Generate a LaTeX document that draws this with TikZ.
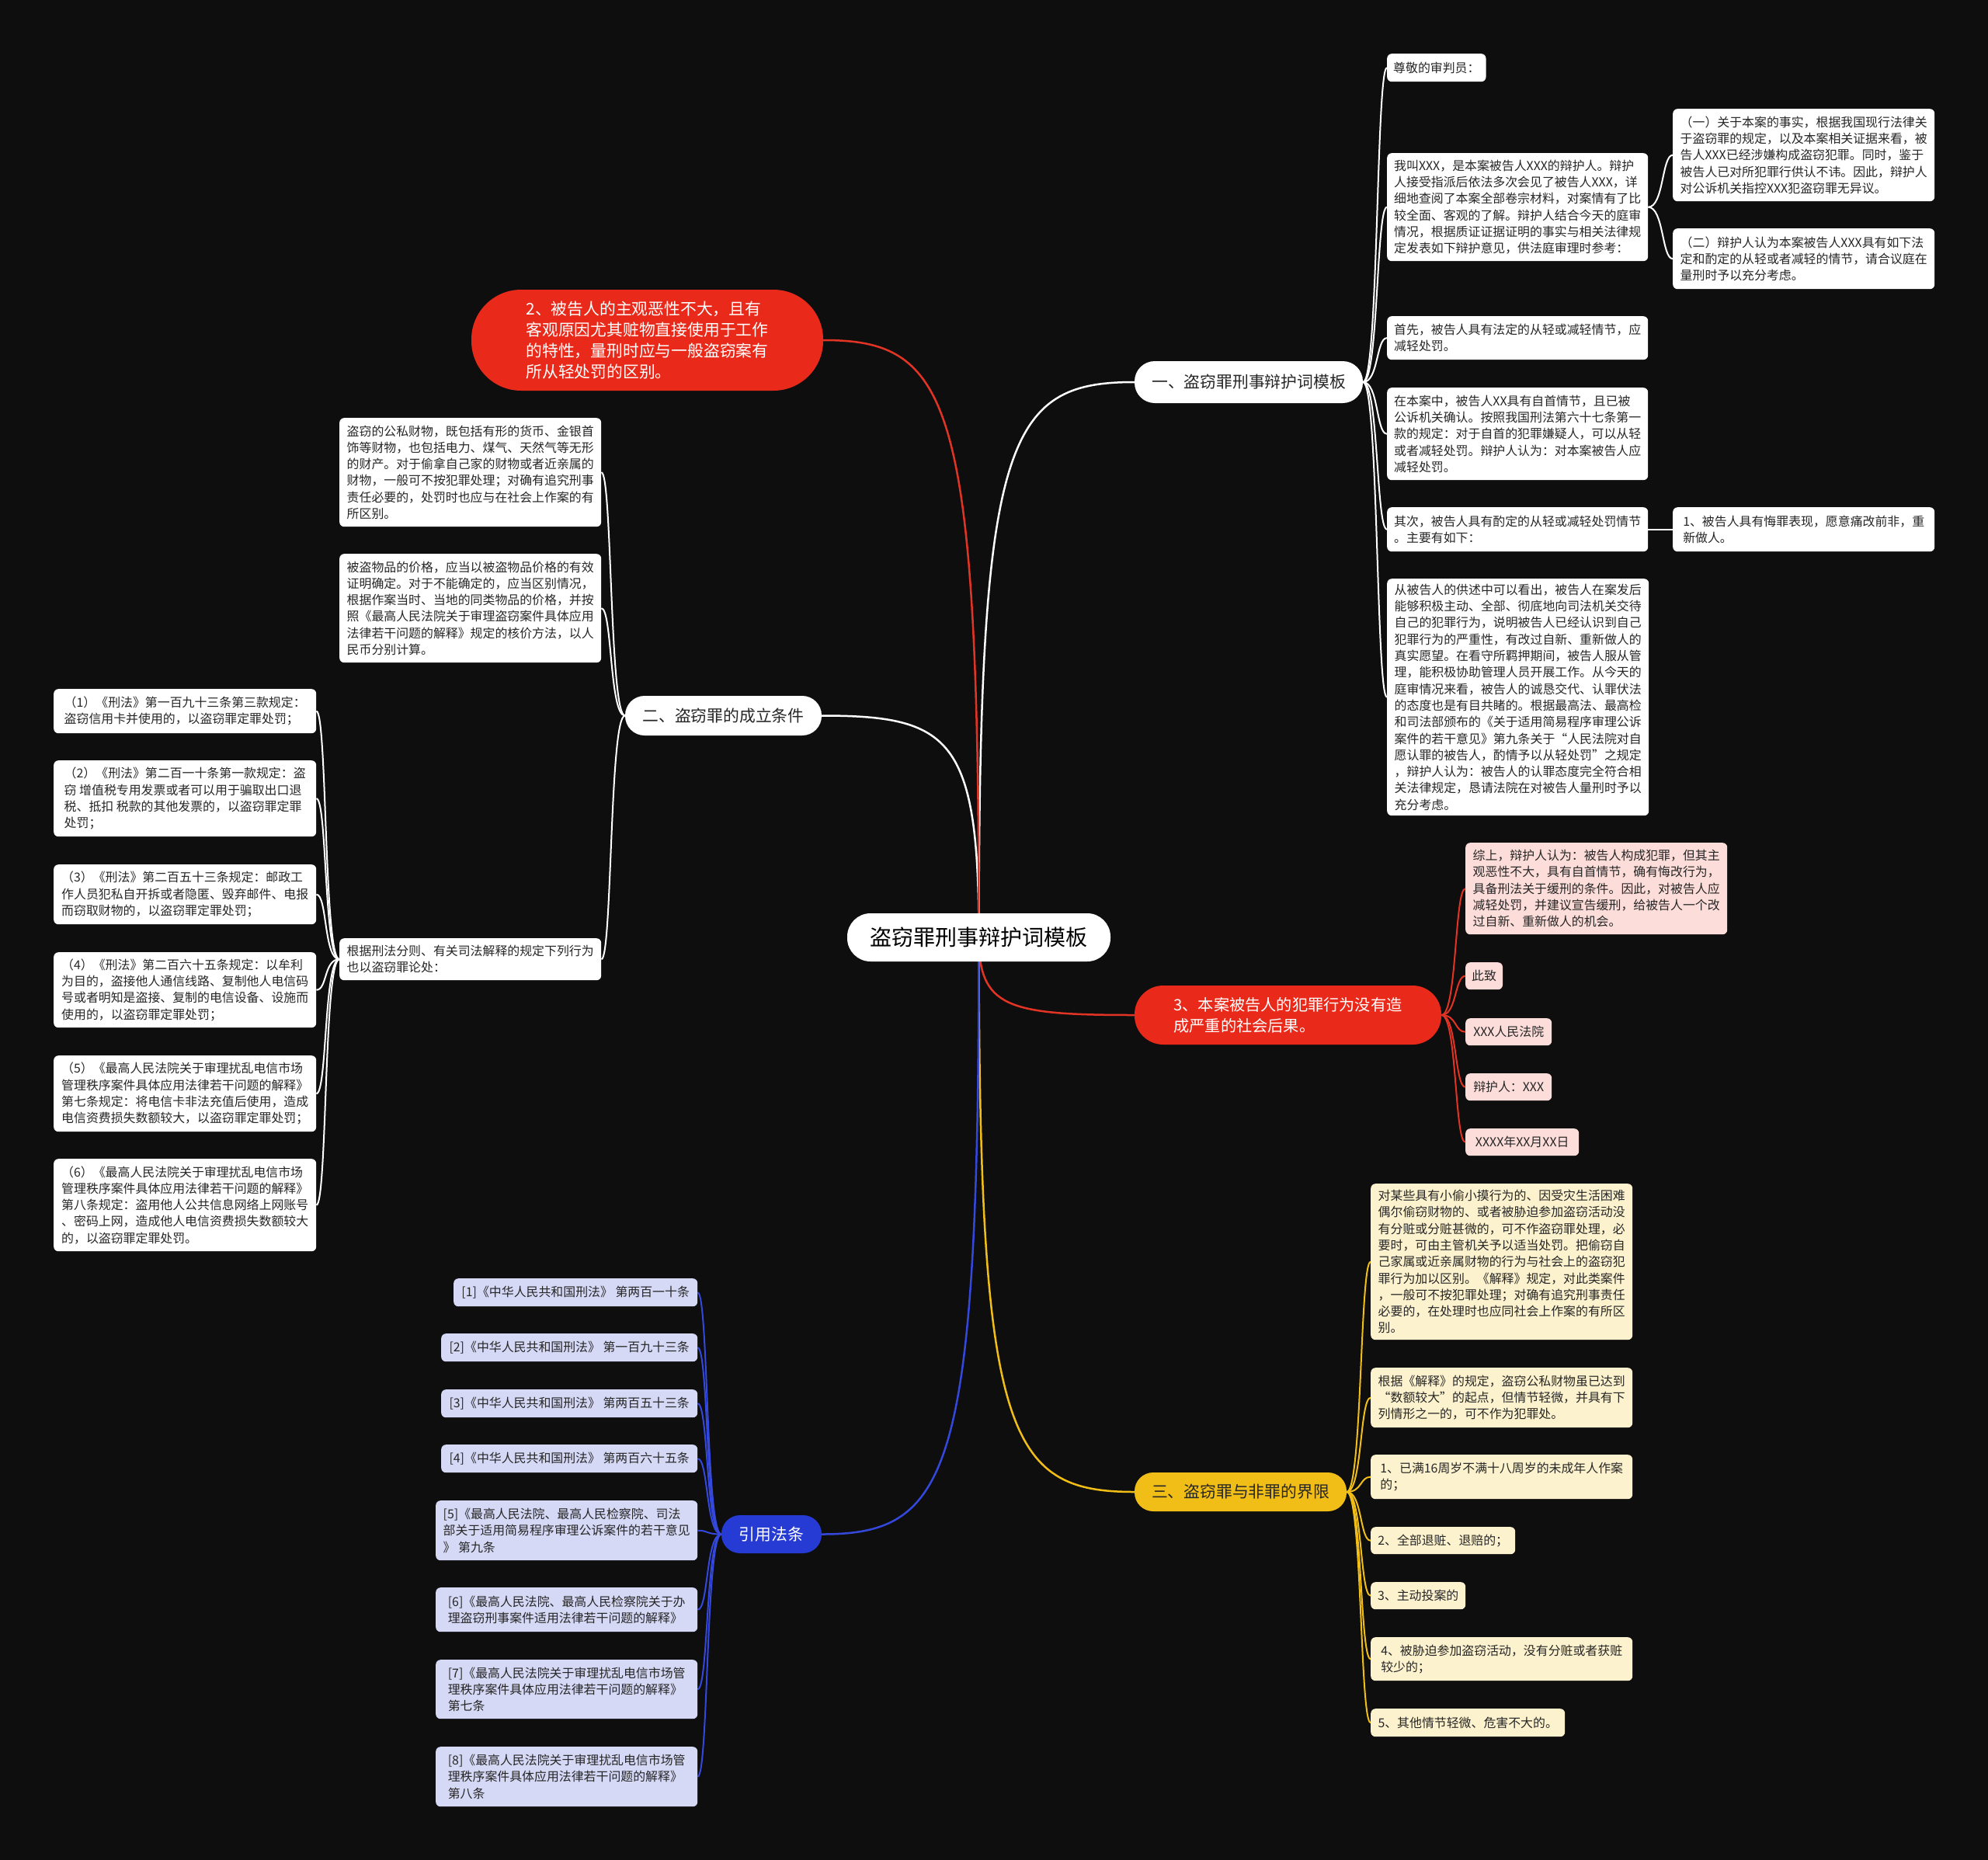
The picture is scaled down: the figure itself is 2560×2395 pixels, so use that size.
\documentclass[tikz,border=0pt]{standalone}
\usepackage{fontspec}
\setmainfont{Noto Sans CJK SC}
\usetikzlibrary{calc}
\pgfdeclarelayer{bgfill}
\pgfdeclarelayer{bg}
\pgfsetlayers{bgfill,bg,main}
\definecolor{bgc}{RGB}{14,14,14}
\definecolor{redc}{RGB}{233,42,26}
\definecolor{redl}{RGB}{226,52,36}
\definecolor{pinkc}{RGB}{252,221,217}
\definecolor{yelc}{RGB}{241,190,24}
\definecolor{creamc}{RGB}{253,242,206}
\definecolor{bluec}{RGB}{38,58,212}
\definecolor{bluel}{RGB}{52,72,220}
\definecolor{lavc}{RGB}{214,217,246}
\definecolor{txt}{RGB}{38,38,38}
\tikzset{
  box/.style={anchor=north west, rounded corners=6pt, align=left, inner xsep=8pt, inner ysep=2pt, text=txt, font={\fontsize{15.9}{21.3}\selectfont}},
  wbox/.style={box, fill=white},
  pbox/.style={box, fill=pinkc},
  cbox/.style={box, fill=creamc},
  lbox/.style={box, fill=lavc},
  mainn/.style={align=left, inner sep=4pt, font={\fontsize{20.8}{27}\selectfont}},
  wl/.style={draw=white, line width=2pt},
  rl/.style={draw=redl, line width=2pt},
  yl/.style={draw=yelc, line width=2pt},
  bll/.style={draw=bluel, line width=2pt},
}
\begin{document}
\begin{tikzpicture}[x=1pt,y=-1pt]
\begin{pgfonlayer}{bgfill}
\fill[bgc] (0,0) rectangle (2560,2395);
\end{pgfonlayer}
\useasboundingbox (0,0) rectangle (2560,2395);

% root
\node[fill=white, rounded corners=30pt, minimum width=339pt, minimum height=62pt, inner sep=2pt, text=black, font={\fontsize{28}{32}\selectfont}] (root) at (1260.5,1207) {盗窃罪刑事辩护词模板};

% main branches
\node[mainn, fill=white, text=txt, rounded corners=26pt, minimum width=294pt, minimum height=54pt] (b1) at (1608,492) {一、盗窃罪刑事辩护词模板};
\node[mainn, fill=white, text=txt, rounded corners=25pt, minimum width=253pt, minimum height=51pt] (b2) at (931.5,921.5) {二、盗窃罪的成立条件};
\node[mainn, fill=redc, text=white, rounded corners=37pt, minimum width=395pt, minimum height=76pt, font={\fontsize{20.2}{27}\selectfont}] (r3) at (1658.5,1307) {3、本案被告人的犯罪行为没有造\\成严重的社会后果。};
\node[mainn, fill=redc, text=white, rounded corners=64pt, minimum width=453pt, minimum height=130pt] (r2) at (833.5,438) {2、被告人的主观恶性不大，且有\\客观原因尤其赃物直接使用于工作\\的特性，量刑时应与一般盗窃案有\\所从轻处罚的区别。};
\node[mainn, fill=yelc, text=txt, rounded corners=24pt, minimum width=273pt, minimum height=50pt] (y3) at (1597.5,1921) {三、盗窃罪与非罪的界限};
\node[mainn, fill=bluec, text=white, rounded corners=24pt, minimum width=129pt, minimum height=49pt] (bl) at (993.5,1975.5) {引用法条};

% branch 1 leaves
\node[wbox, minimum width=127pt, minimum height=36pt] (a1) at (1786,69) {尊敬的审判员：};
\node[wbox, minimum width=336pt, minimum height=139pt] (a2) at (1786,197) {我叫XXX，是本案被告人XXX的辩护人。辩护\\人接受指派后依法多次会见了被告人XXX，详\\细地查阅了本案全部卷宗材料，对案情有了比\\较全面、客观的了解。辩护人结合今天的庭审\\情况，根据质证证据证明的事实与相关法律规\\定发表如下辩护意见，供法庭审理时参考：};
\node[wbox, minimum width=337pt, minimum height=119pt] (a2a) at (2154,140) {（一）关于本案的事实，根据我国现行法律关\\于盗窃罪的规定，以及本案相关证据来看，被\\告人XXX已经涉嫌构成盗窃犯罪。同时，鉴于\\被告人已对所犯罪行供认不讳。因此，辩护人\\对公诉机关指控XXX犯盗窃罪无异议。};
\node[wbox, minimum width=337pt, minimum height=78pt] (a2b) at (2154,294) {（二）辩护人认为本案被告人XXX具有如下法\\定和酌定的从轻或者减轻的情节，请合议庭在\\量刑时予以充分考虑。};
\node[wbox, minimum width=336pt, minimum height=56pt] (a3) at (1786,407) {首先，被告人具有法定的从轻或减轻情节，应\\减轻处罚。};
\node[wbox, minimum width=336pt, minimum height=119pt] (a4) at (1786,499) {在本案中，被告人XX具有自首情节，且已被\\公诉机关确认。按照我国刑法第六十七条第一\\款的规定：对于自首的犯罪嫌疑人，可以从轻\\或者减轻处罚。辩护人认为：对本案被告人应\\减轻处罚。};
\node[wbox, minimum width=336pt, minimum height=57pt] (a5) at (1786,653) {其次，被告人具有酌定的从轻或减轻处罚情节\\。主要有如下：};
\node[wbox, minimum width=337pt, minimum height=57pt] (a5a) at (2154,653) {1、被告人具有悔罪表现，愿意痛改前非，重\\新做人。};
\node[wbox, minimum width=337pt, minimum height=305pt] (a6) at (1786,745) {从被告人的供述中可以看出，被告人在案发后\\能够积极主动、全部、彻底地向司法机关交待\\自己的犯罪行为，说明被告人已经认识到自己\\犯罪行为的严重性，有改过自新、重新做人的\\真实愿望。在看守所羁押期间，被告人服从管\\理，能积极协助管理人员开展工作。从今天的\\庭审情况来看，被告人的诚恳交代、认罪伏法\\的态度也是有目共睹的。根据最高法、最高检\\和司法部颁布的《关于适用简易程序审理公诉\\案件的若干意见》第九条关于“人民法院对自\\愿认罪的被告人，酌情予以从轻处罚”之规定\\，辩护人认为：被告人的认罪态度完全符合相\\关法律规定，恳请法院在对被告人量刑时予以\\充分考虑。};

% red 3 leaves
\node[pbox, minimum width=337pt, minimum height=118pt] (p1) at (1887,1085) {综上，辩护人认为：被告人构成犯罪，但其主\\观恶性不大，具有自首情节，确有悔改行为，\\具备刑法关于缓刑的条件。因此，对被告人应\\减轻处罚，并建议宣告缓刑，给被告人一个改\\过自新、重新做人的机会。};
\node[pbox, minimum width=47pt, minimum height=35pt] (p2) at (1887,1239) {此致};
\node[pbox, minimum width=111pt, minimum height=35pt] (p3) at (1887,1311) {XXX人民法院};
\node[pbox, minimum width=111pt, minimum height=35pt] (p4) at (1887,1382) {辩护人：XXX};
\node[pbox, minimum width=146pt, minimum height=35pt] (p5) at (1887,1453) {XXXX年XX月XX日};

% yellow leaves
\node[cbox, minimum width=337pt, minimum height=201pt] (c1) at (1765,1524) {对某些具有小偷小摸行为的、因受灾生活困难\\偶尔偷窃财物的、或者被胁迫参加盗窃活动没\\有分赃或分赃甚微的，可不作盗窃罪处理，必\\要时，可由主管机关予以适当处罚。把偷窃自\\己家属或近亲属财物的行为与社会上的盗窃犯\\罪行为加以区别。《解释》规定，对此类案件\\，一般可不按犯罪处理；对确有追究刑事责任\\必要的，在处理时也应同社会上作案的有所区\\别。};
\node[cbox, minimum width=337pt, minimum height=77pt] (c2) at (1765,1761) {根据《解释》的规定，盗窃公私财物虽已达到\\“数额较大”的起点，但情节轻微，并具有下\\列情形之一的，可不作为犯罪处。};
\node[cbox, minimum width=337pt, minimum height=57pt] (c3) at (1765,1873) {1、已满16周岁不满十八周岁的未成年人作案\\的；};
\node[cbox, minimum width=186pt, minimum height=35pt] (c4) at (1765,1966) {2、全部退赃、退赔的；};
\node[cbox, minimum width=122pt, minimum height=35pt] (c5) at (1765,2037) {3、主动投案的};
\node[cbox, minimum width=337pt, minimum height=56pt] (c6) at (1765,2108) {4、被胁迫参加盗窃活动，没有分赃或者获赃\\较少的；};
\node[cbox, minimum width=250pt, minimum height=36pt] (c7) at (1765,2200) {5、其他情节轻微、危害不大的。};

% branch 2 leaves
\node[wbox, minimum width=337pt, minimum height=140pt] (d1) at (437,538) {盗窃的公私财物，既包括有形的货币、金银首\\饰等财物，也包括电力、煤气、天然气等无形\\的财产。对于偷拿自己家的财物或者近亲属的\\财物，一般可不按犯罪处理；对确有追究刑事\\责任必要的，处罚时也应与在社会上作案的有\\所区别。};
\node[wbox, minimum width=337pt, minimum height=140pt] (d2) at (437,713) {被盗物品的价格，应当以被盗物品价格的有效\\证明确定。对于不能确定的，应当区别情况，\\根据作案当时、当地的同类物品的价格，并按\\照《最高人民法院关于审理盗窃案件具体应用\\法律若干问题的解释》规定的核价方法，以人\\民币分别计算。};
\node[wbox, minimum width=337pt, minimum height=54pt] (d3) at (437,1208) {根据刑法分则、有关司法解释的规定下列行为\\也以盗窃罪论处：};
\node[wbox, minimum width=338pt, minimum height=57pt] (e1) at (69,887) {（1）《刑法》第一百九十三条第三款规定：\\盗窃信用卡并使用的，以盗窃罪定罪处罚；};
\node[wbox, minimum width=338pt, minimum height=98pt] (e2) at (69,979) {（2）《刑法》第二百一十条第一款规定：盗\\窃~增值税专用发票或者可以用于骗取出口退\\税、抵扣~税款的其他发票的，以盗窃罪定罪\\处罚；};
\node[wbox, minimum width=338pt, minimum height=77pt] (e3) at (69,1113) {（3）《刑法》第二百五十三条规定：邮政工\\作人员犯私自开拆或者隐匿、毁弃邮件、电报\\而窃取财物的，以盗窃罪定罪处罚；};
\node[wbox, minimum width=338pt, minimum height=97pt] (e4) at (69,1226) {（4）《刑法》第二百六十五条规定：以牟利\\为目的，盗接他人通信线路、复制他人电信码\\号或者明知是盗接、复制的电信设备、设施而\\使用的，以盗窃罪定罪处罚；};
\node[wbox, minimum width=338pt, minimum height=98pt] (e5) at (69,1359) {（5）《最高人民法院关于审理扰乱电信市场\\管理秩序案件具体应用法律若干问题的解释》\\第七条规定：将电信卡非法充值后使用，造成\\电信资费损失数额较大，以盗窃罪定罪处罚；};
\node[wbox, minimum width=338pt, minimum height=119pt] (e6) at (69,1492) {（6）《最高人民法院关于审理扰乱电信市场\\管理秩序案件具体应用法律若干问题的解释》\\第八条规定：盗用他人公共信息网络上网账号\\、密码上网，造成他人电信资费损失数额较大\\的，以盗窃罪定罪处罚。};

% blue leaves
\node[lbox, minimum width=314pt, minimum height=36pt] (f1) at (584,1646) {[1]《中华人民共和国刑法》~第两百一十条};
\node[lbox, minimum width=330pt, minimum height=36pt] (f2) at (568,1717) {[2]《中华人民共和国刑法》~第一百九十三条};
\node[lbox, minimum width=330pt, minimum height=36pt] (f3) at (568,1789) {[3]《中华人民共和国刑法》~第两百五十三条};
\node[lbox, minimum width=330pt, minimum height=36pt] (f4) at (568,1860) {[4]《中华人民共和国刑法》~第两百六十五条};
\node[lbox, minimum width=337pt, minimum height=77pt] (f5) at (561,1932) {[5]《最高人民法院、最高人民检察院、司法\\部关于适用简易程序审理公诉案件的若干意见\\》~第九条};
\node[lbox, minimum width=337pt, minimum height=57pt] (f6) at (561,2044) {[6]《最高人民法院、最高人民检察院关于办\\理盗窃刑事案件适用法律若干问题的解释》};
\node[lbox, minimum width=337pt, minimum height=76pt] (f7) at (561,2137) {[7]《最高人民法院关于审理扰乱电信市场管\\理秩序案件具体应用法律若干问题的解释》\\第七条};
\node[lbox, minimum width=337pt, minimum height=77pt] (f8) at (561,2249) {[8]《最高人民法院关于审理扰乱电信市场管\\理秩序案件具体应用法律若干问题的解释》\\第八条};

\begin{pgfonlayer}{bg}
% root connectors
\draw[wl, line width=2.5pt] (root.center) .. controls ($(root.center |- b1.west)!0.1!(root.center)$) and ($(root.center |- b1.west)!0.18!(b1.west)$) .. (b1.west);
\draw[wl, line width=2.5pt] (root.center) .. controls ($(root.center |- b2.east)!0.1!(root.center)$) and ($(root.center |- b2.east)!0.18!(b2.east)$) .. (b2.east);
\draw[rl, line width=2.5pt] (root.center) .. controls ($(root.center |- r2.east)!0.1!(root.center)$) and ($(root.center |- r2.east)!0.18!(r2.east)$) .. (r2.east);
\draw[rl, line width=2.5pt] (root.center) .. controls ($(root.center |- r3.west)!0.1!(root.center)$) and ($(root.center |- r3.west)!0.18!(r3.west)$) .. (r3.west);
\draw[yl, line width=2.5pt] (root.center) .. controls ($(root.center |- y3.west)!0.1!(root.center)$) and ($(root.center |- y3.west)!0.18!(y3.west)$) .. (y3.west);
\draw[bll, line width=2.5pt] (root.center) .. controls ($(root.center |- bl.east)!0.1!(root.center)$) and ($(root.center |- bl.east)!0.18!(bl.east)$) .. (bl.east);
% branch 1
\foreach \c in {a1,a2,a3,a4,a5,a6}
  \draw[wl] (b1.east) .. controls +(20,0) and +(-14,0) .. (\c.west);
\foreach \c in {a2a,a2b}
  \draw[wl] (a2.east) .. controls +(20,0) and +(-14,0) .. (\c.west);
\draw[wl] (a5.east) -- (a5a.west);
% red 3
\foreach \c in {p1,p2,p3,p4,p5}
  \draw[rl] (r3.east) .. controls +(20,0) and +(-14,0) .. (\c.west);
% yellow
\foreach \c in {c1,c2,c3,c4,c5,c6,c7}
  \draw[yl] (y3.east) .. controls +(20,0) and +(-14,0) .. (\c.west);
% branch 2
\foreach \c in {d1,d2,d3}
  \draw[wl] (b2.west) .. controls +(-20,0) and +(14,0) .. (\c.east);
\foreach \c in {e1,e2,e3,e4,e5,e6}
  \draw[wl] (d3.west) .. controls +(-20,0) and +(14,0) .. (\c.east);
% blue
\foreach \c in {f1,f2,f3,f4,f5,f6,f7,f8}
  \draw[bll] (bl.west) .. controls +(-20,0) and +(14,0) .. (\c.east);
\end{pgfonlayer}
\end{tikzpicture}
\end{document}
